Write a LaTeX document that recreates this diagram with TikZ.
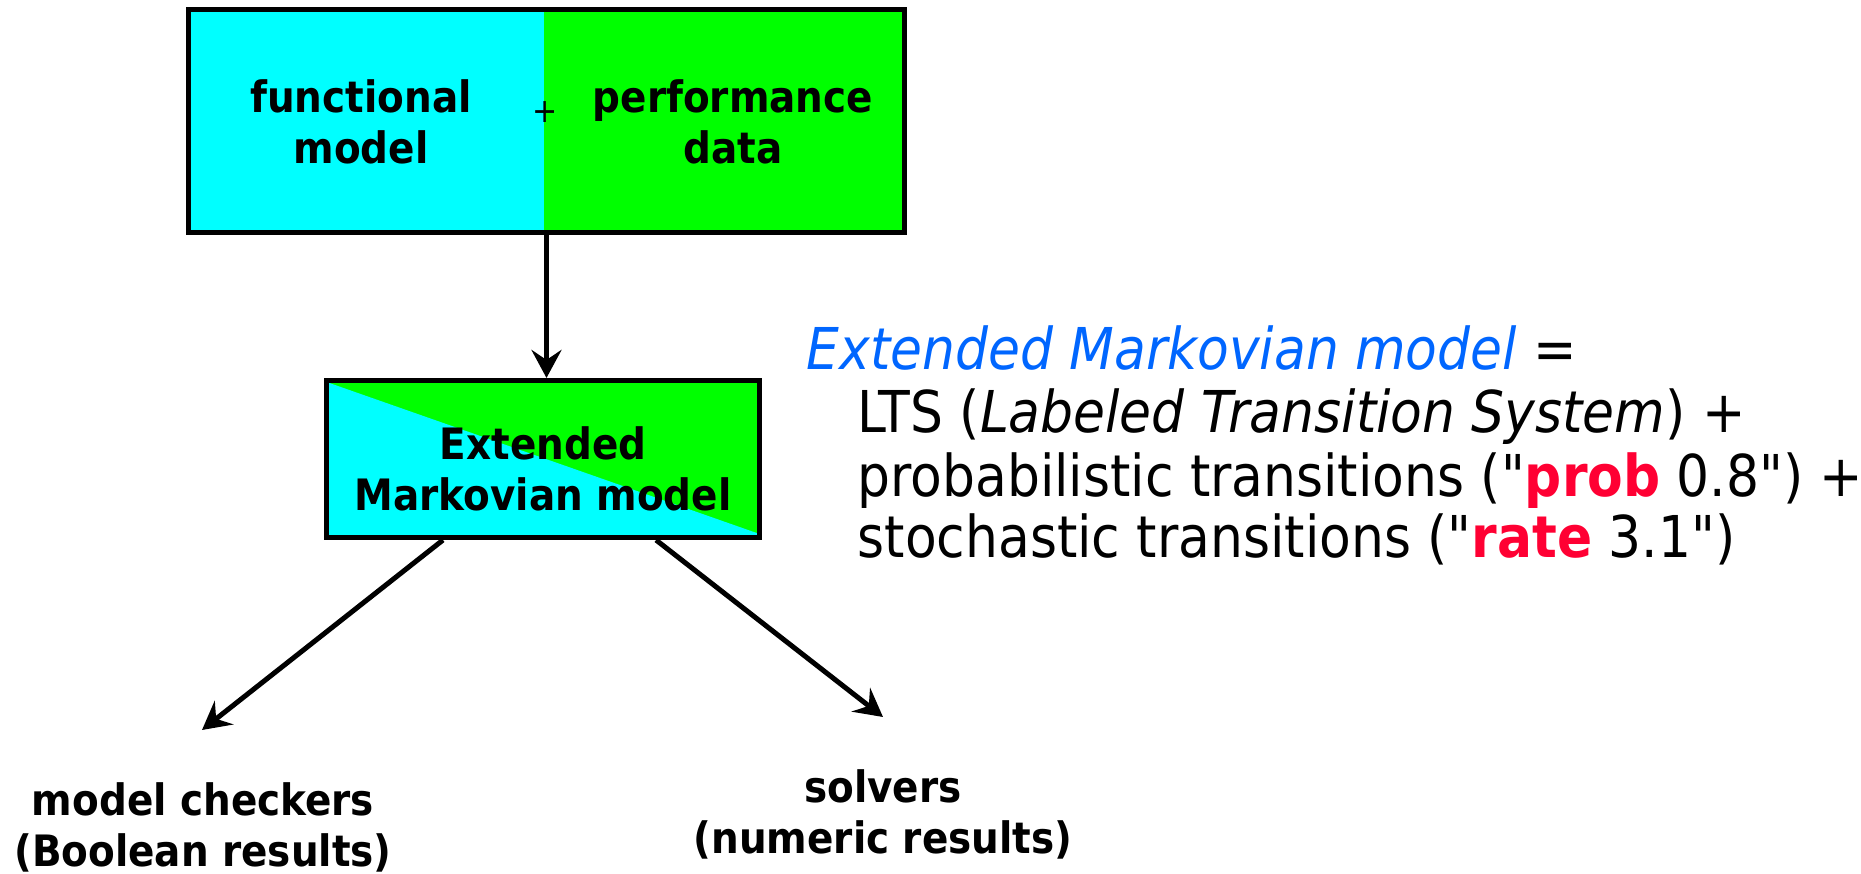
\documentclass[tikz,border=0pt]{standalone}
\usepackage{fontspec}
\setmainfont{DejaVu Sans Condensed}[BoldFont={DejaVu Sans Condensed Bold},ItalicFont={DejaVu Sans Condensed Oblique}]
\usetikzlibrary{arrows.meta}

\definecolor{fmcyan}{RGB}{0,255,255}
\definecolor{fmgreen}{RGB}{0,255,0}
\definecolor{emblue}{RGB}{0,102,255}
\definecolor{kwred}{RGB}{255,0,51}

\newcommand{\kw}[1]{{\color{kwred}\bfseries #1}}

\tikzset{
    box/.style={draw=black, line width=0.05cm, fill=fmgreen, inner sep=0pt},
    lbl/.style={font=\bfseries\fontsize{12.3}{14.5}\selectfont, align=center, inner sep=0pt},
    deftext/.style={font=\fontsize{16.4}{17.9}\selectfont, anchor=base west, inner sep=0pt},
    arr/.style={-{Stealth[length=0.28cm, width=0.3cm, inset=0.1cm]}, line width=0.05cm},
}

\begin{document}
\begin{tikzpicture}[x=0.01cm, y=-0.01cm]
    \useasboundingbox (0,0) rectangle (1861,874);

    % boxes
    \node[box, minimum width=7.16cm, minimum height=2.23cm,
        path picture={\fill[fmcyan] (path picture bounding box.north west)
            rectangle ([xshift=-0.025cm]path picture bounding box.south);}]
        (input) at (546.5,121) {};
    \node[lbl] (func) at (361,122) {functional\\model};
    \node[lbl] (perf) at (733,122) {performance\\data};
    \node[font=\fontsize{9.5}{11}\selectfont, inner sep=0pt] (plus) at (545,112) {+};

    \node[box, minimum width=4.33cm, minimum height=1.57cm,
        path picture={\fill[fmcyan] ([yshift=-0.015cm]path picture bounding box.north west)
            -- ([xshift=0.1cm]path picture bounding box.south east)
            -- (path picture bounding box.south west) -- cycle;}]
        (emm) at (543,459) {};
    \node[lbl] (emmtext) at (543,469) {Extended\\Markovian model};

    % tools
    \node[lbl] (checkers) at (203,827) {model checkers\\(Boolean results)};
    \node[lbl] (solvers) at (883,814) {solvers\\(numeric results)};
    \coordinate (chkend) at (202,730);
    \coordinate (solend) at (883,717);

    \draw[arr] (input.south) to (input.south |- emm.north);
    \draw[arr] ([xshift=-1cm]emm.south) to (chkend);
    \draw[arr] ([xshift=1.13cm]emm.south) to (solend);

    % definition
    \node[deftext] (emdef) at (806,370) {{\color{emblue}\itshape Extended Markovian model} =};
    \node[deftext] (lts) at (857,433) {LTS (\textit{Labeled Transition System}) +};
    \node[deftext] (prob) at (857,497) {probabilistic transitions (\textquotedbl\kw{prob} 0.8\textquotedbl) +};
    \node[deftext] (stoch) at (857,558) {stochastic transitions (\textquotedbl\kw{rate} 3.1\textquotedbl)};
\end{tikzpicture}
\end{document}
